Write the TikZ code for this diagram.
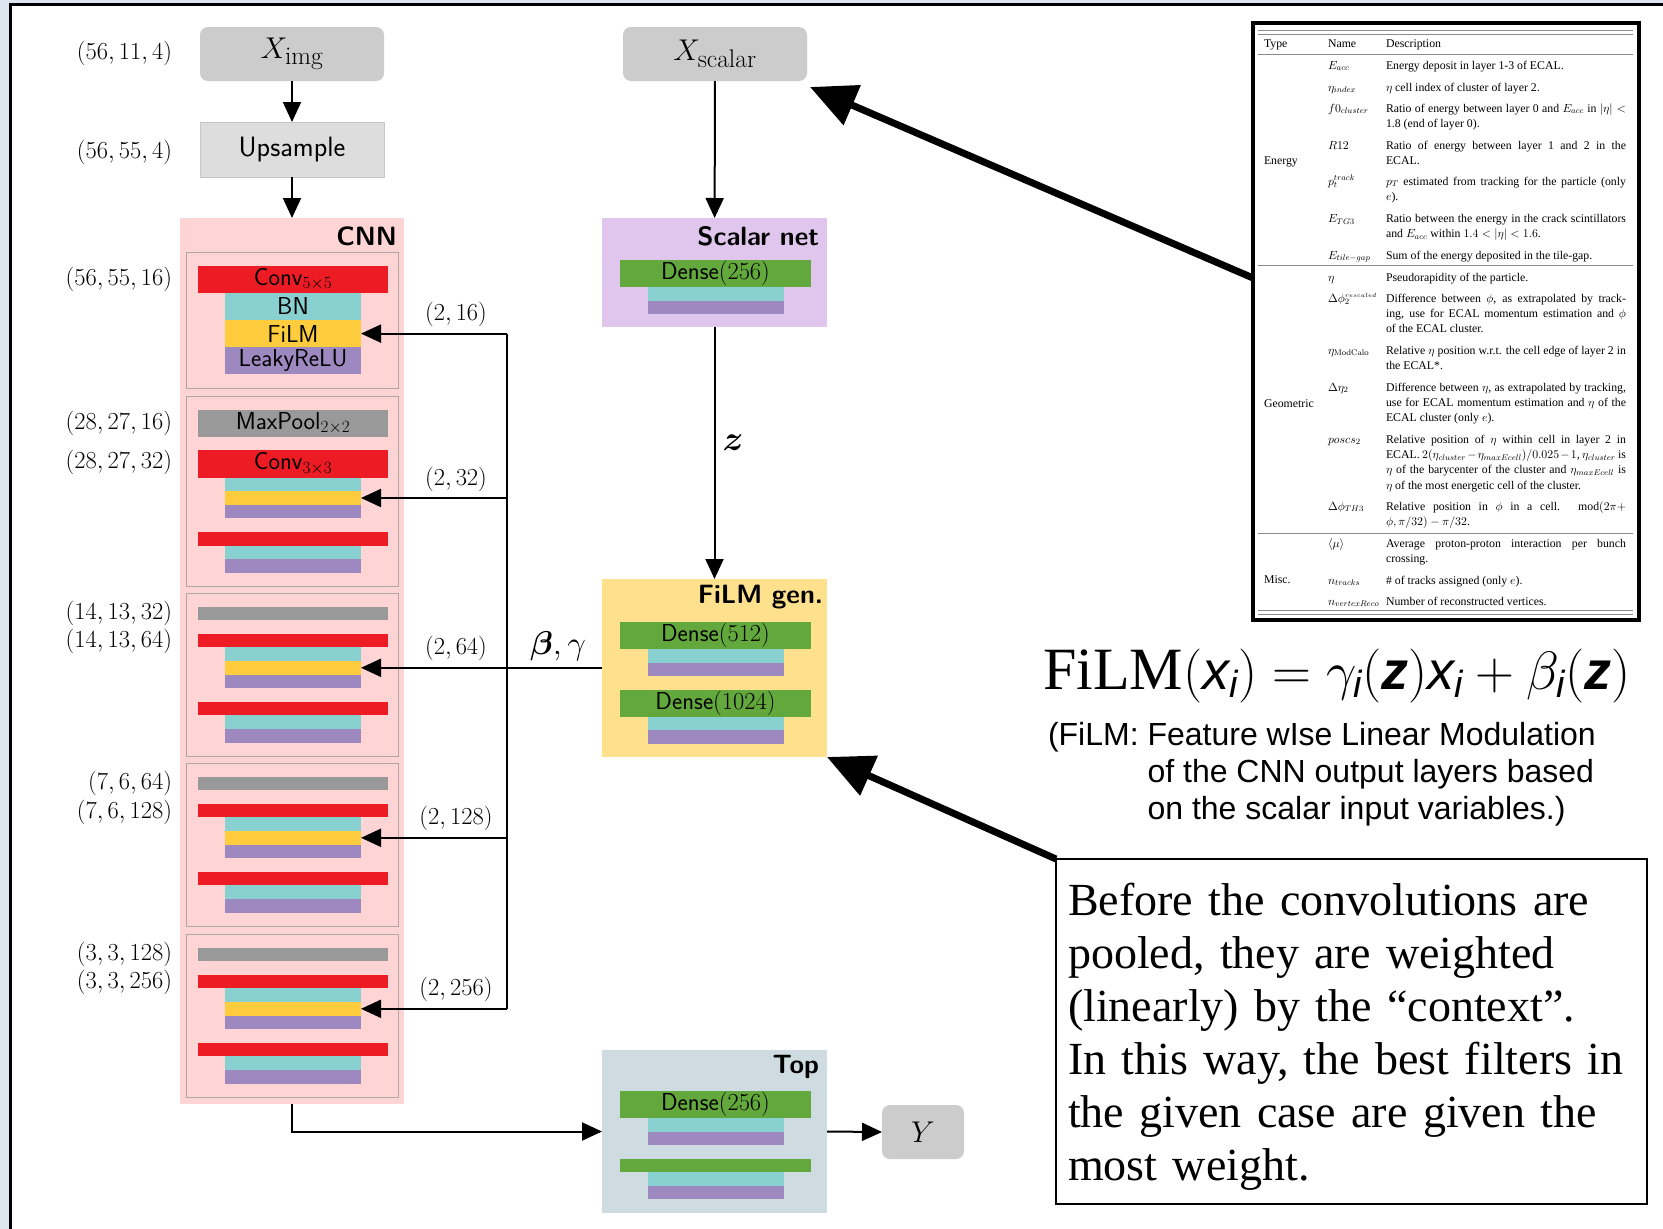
\RequirePackage{fix-cm}
\documentclass[tikz,border=0pt]{standalone}
\usepackage{amsmath,amssymb}
\usepackage{fontspec}
\newfontfamily\tabfont{Liberation Serif}
\newfontfamily\helv{Liberation Sans}
\usetikzlibrary{arrows.meta,calc}
\definecolor{cred}{HTML}{ED1C24}
\definecolor{ccyan}{HTML}{88D1D0}
\definecolor{cyel}{HTML}{FECC3D}
\definecolor{cpur}{HTML}{9E88C0}
\definecolor{cgray}{HTML}{999999}
\definecolor{cgreen}{HTML}{63A83C}
\definecolor{cnnbg}{HTML}{FFD4D4}
\definecolor{scbg}{HTML}{E0C6EC}
\definecolor{fgbg}{HTML}{FFE08C}
\definecolor{topbg}{HTML}{CEDCE2}
\definecolor{boxgray}{HTML}{CCCCCC}
\definecolor{upgray}{HTML}{DDDDDD}
\definecolor{slidebg}{HTML}{DDE5EE}
\definecolor{blkline}{HTML}{B0A6A6}
\definecolor{rulegray}{HTML}{8C8C8C}
\newcommand\myX{\text{\helv\itshape x}}
\newcommand\myI{\text{\helv\itshape i}}
\newcommand\myZ{\text{\helv\bfseries\itshape z}}
\newcommand\bigsub[1]{\text{\fontsize{25.5}{26}\selectfont #1}}
\newcommand\thinblock[2]{%
 \node[blk,minimum height=163.2pt] (#1) at (186,#2) {};
 \node[wbar,fill=cgray,minimum height=13.6pt] (#1mp) at (198,#2+13.6) {};
 \node[wbar,fill=cred,minimum height=13.6pt] (#1ca) at (198,#2+40.8) {};
 \node[nbar,fill=ccyan,minimum height=13.6pt] (#1ba) at (225,#2+54.4) {};
 \node[nbar,fill=cyel,minimum height=13.6pt] (#1f) at (225,#2+68) {};
 \node[nbar,fill=cpur,minimum height=13.6pt] (#1la) at (225,#2+81.6) {};
 \node[wbar,fill=cred,minimum height=13.6pt] (#1cb) at (198,#2+108.8) {};
 \node[nbar,fill=ccyan,minimum height=13.6pt] (#1bb) at (225,#2+122.4) {};
 \node[nbar,fill=cpur,minimum height=13.6pt] (#1lb) at (225,#2+136) {};
}
\newcommand\desc[3]{\node[tabtxt] (#1) at (1386,#2) {\parbox[t]{240pt}{\hyphenpenalty=10000\tolerance=10000\emergencystretch=20pt #3}};}
\newcommand\tname[3]{\node[tabtxt] (#1) at (1328,#2) {#3};}
\begin{document}
\begin{tikzpicture}[x=1pt,y=-1pt,every node/.style={outer sep=0pt},
 conn/.style={line width=2pt,-{Triangle[length=20pt,width=18pt]}},
 wire/.style={line width=2pt},
 bigarrow/.style={line width=7pt,-{Triangle[length=46pt,width=42pt]}},
 barnode/.style={anchor=north west,inner sep=0pt,font=\sffamily\fontsize{24.5}{26}\selectfont},
 wbar/.style={barnode,minimum width=190pt},
 nbar/.style={barnode,minimum width=136pt},
 gbar/.style={barnode,minimum width=191pt,fill=cgreen},
 blk/.style={anchor=north west,draw=blkline,line width=1pt,minimum width=212pt,inner sep=0pt},
 dimlab/.style={anchor=east,inner sep=0pt,font=\fontsize{24.5}{28}\selectfont},
 fdim/.style={inner sep=0pt,font=\fontsize{24.5}{28}\selectfont},
 ttl/.style={anchor=east,inner sep=0pt,font=\sffamily\bfseries\fontsize{26.5}{30}\selectfont},
 iobox/.style={fill=boxgray,rounded corners=8pt,minimum height=54pt,inner sep=0pt,font=\fontsize{30}{34}\selectfont},
 panel/.style={inner sep=0pt},
 tabtxt/.style={anchor=base west,inner sep=0pt,font=\tabfont\fontsize{11.8}{15.4}\selectfont},
 tabrule/.style={draw=rulegray,line width=0.8pt}]
\useasboundingbox (0,0) rectangle (1663,1229);
% slide background and frame
\fill[slidebg] (0,0) rectangle (1663,1229);
\fill[white] (10,4) rectangle (1663,1229);
\draw[line width=3pt] (10,1229) -- (10,4) -- (1663,4);

% ---------- left column ----------
\node[iobox,minimum width=184pt] (ximg) at (292,54) {$X_{\bigsub{img}}$};
\node[panel,fill=upgray,draw=black!22,line width=1pt,minimum width=184pt,minimum height=55pt,text height=19pt,text depth=6pt,font=\sffamily\fontsize{28}{32}\selectfont] (ups) at (292,149.5) {Upsample};
\node[panel,fill=cnnbg,minimum width=224pt,minimum height=886pt] (cnn) at (292,661) {};
\node[ttl] (cnnt) at (397,236) {CNN};

% block 1
\node[blk,minimum height=136pt] (b1) at (186,252) {};
\node[wbar,fill=cred,minimum height=27.2pt] (b1c) at (198,265.6) {Conv$_{5\times5}$};
\node[nbar,fill=ccyan,minimum height=27.2pt] (b1b) at (225,292.8) {BN};
\node[nbar,fill=cyel,minimum height=27.2pt] (b1f) at (225,320) {FiLM};
\node[nbar,fill=cpur,minimum height=27.2pt] (b1l) at (225,347.2) {LeakyReLU};
% block 2
\node[blk,minimum height=190.4pt] (b2) at (186,396) {};
\node[wbar,fill=cgray,minimum height=27.2pt] (b2mp) at (198,409.6) {MaxPool$_{2\times2}$};
\node[wbar,fill=cred,minimum height=27.2pt] (b2ca) at (198,450.4) {Conv$_{3\times3}$};
\node[nbar,fill=ccyan,minimum height=13.6pt] (b2ba) at (225,477.6) {};
\node[nbar,fill=cyel,minimum height=13.6pt] (b2f) at (225,491.2) {};
\node[nbar,fill=cpur,minimum height=13.6pt] (b2la) at (225,504.8) {};
\node[wbar,fill=cred,minimum height=13.6pt] (b2cb) at (198,532) {};
\node[nbar,fill=ccyan,minimum height=13.6pt] (b2bb) at (225,545.6) {};
\node[nbar,fill=cpur,minimum height=13.6pt] (b2lb) at (225,559.2) {};
% blocks 3-5
\thinblock{b3}{593}
\thinblock{b4}{763}
\thinblock{b5}{934}

% dimension labels
\node[dimlab] (d1) at (172,53) {$(56,11,4)$};
\node[dimlab] (d2) at (172,152) {$(56,55,4)$};
\node[dimlab] (d3) at (172,279) {$(56,55,16)$};
\node[dimlab] (d4) at (172,423) {$(28,27,16)$};
\node[dimlab] (d5) at (172,462) {$(28,27,32)$};
\node[dimlab] (d6) at (172,613) {$(14,13,32)$};
\node[dimlab] (d7) at (172,641) {$(14,13,64)$};
\node[dimlab] (d8) at (172,783) {$(7,6,64)$};
\node[dimlab] (d9) at (172,812) {$(7,6,128)$};
\node[dimlab] (d10) at (172,954) {$(3,3,128)$};
\node[dimlab] (d11) at (172,982) {$(3,3,256)$};

\draw[conn] (ximg) -- (ups);
\draw[conn] (ups) -- (cnn);

% ---------- middle column ----------
\node[iobox,minimum width=184pt] (xsc) at (715,54) {$X_{\bigsub{scalar}}$};
\node[panel,fill=scbg,minimum width=225pt,minimum height=109pt] (scn) at (714.5,272.5) {};
\node[ttl] (scnt) at (819,236) {Scalar net};
\node[gbar,minimum height=27pt] (s1) at (620,260) {Dense$(256)$};
\node[nbar,fill=ccyan,minimum height=13.5pt] (s2) at (648,287) {};
\node[nbar,fill=cpur,minimum height=13.5pt] (s3) at (648,300.5) {};

\node[panel,fill=fgbg,minimum width=225pt,minimum height=178pt] (fg) at (714.5,668) {};
\node[ttl] (fgt) at (823,597) {FiLM gen.};
\node[gbar,minimum height=27pt] (g1) at (620,622) {Dense$(512)$};
\node[nbar,fill=ccyan,minimum height=13.5pt] (g2) at (648,649) {};
\node[nbar,fill=cpur,minimum height=13.5pt] (g3) at (648,662.5) {};
\node[gbar,minimum height=27pt] (g4) at (620,689.5) {Dense$(1024)$};
\node[nbar,fill=ccyan,minimum height=13.5pt] (g5) at (648,716.5) {};
\node[nbar,fill=cpur,minimum height=13.5pt] (g6) at (648,730) {};

\node[panel,fill=topbg,minimum width=225pt,minimum height=163pt] (top) at (714.5,1131.5) {};
\node[ttl] (topt) at (819,1067) {Top};
\node[gbar,minimum height=27pt] (t1) at (620,1091) {Dense$(256)$};
\node[nbar,fill=ccyan,minimum height=13.5pt] (t2) at (648,1118) {};
\node[nbar,fill=cpur,minimum height=13.5pt] (t3) at (648,1131.5) {};
\node[gbar,minimum height=13.5pt] (t4) at (620,1158.5) {};
\node[nbar,fill=ccyan,minimum height=13.5pt] (t5) at (648,1172) {};
\node[nbar,fill=cpur,minimum height=13.5pt] (t6) at (648,1185.5) {};

\node[iobox,minimum width=82pt] (yout) at (923,1132) {$Y$};

\draw[conn] (xsc) -- (scn);
\draw[conn] (scn) -- (fg);
\node[inner sep=0pt,font=\fontsize{35}{38}\selectfont] (zlab) at (733,443) {$\boldsymbol{z}$};

% FiLM bus
\coordinate (bus) at (507,668);
\draw[wire] (fg.west) -- (bus);
\draw[wire] (bus |- b1f.east) -- (bus |- b5f.east);
\foreach \b/\lab in {b1/16,b2/32,b3/64,b4/128,b5/256}{
 \draw[conn] (bus |- \b f.east) -- (\b f.east);
 \node[fdim] (\b lab) at ($(bus |- \b f.east)+(-51,-19)$) {$(2,\lab)$};
}
\node[inner sep=0pt,font=\fontsize{33}{36}\selectfont] (bglab) at (558,646) {$\boldsymbol{\beta},\gamma$};

\draw[conn] (cnn.south) |- (top.west);
\draw[conn] (top.east) -- (yout.west);

% ---------- table ----------
\node[draw,fill=white,line width=4pt,minimum width=386pt,minimum height=597pt,inner sep=0pt] (tabframe) at (1446,321.5) {};
\draw[tabrule] (1258,30) -- (1633,30);
\draw[tabrule] (1258,34) -- (1633,34);
\draw[tabrule] (1258,54) -- (1633,54);
\draw[tabrule] (1258,265) -- (1633,265);
\draw[tabrule] (1258,533) -- (1633,533);
\draw[tabrule] (1258,610) -- (1633,610);
\draw[tabrule] (1258,614) -- (1633,614);

\node[tabtxt] (hType) at (1264,47.5) {Type};
\node[tabtxt] (hName) at (1328,47.5) {Name};
\node[tabtxt] (hDesc) at (1386,47.5) {Description};
\node[tabtxt] (tyE) at (1264,164) {Energy};
\node[tabtxt] (tyG) at (1264,407) {Geometric};
\node[tabtxt] (tyM) at (1264,583) {Misc.};

\tname{n1}{69}{$E_{acc}$}
\tname{n2}{91}{$\eta_{index}$}
\tname{n3}{112}{$f0_{cluster}$}
\tname{n4}{149}{$R12$}
\tname{n5}{185}{$p_t^{track}$}
\tname{n6}{222.5}{$E_{TG3}$}
\tname{n7}{259}{$E_{tile-gap}$}
\tname{n8}{281}{$\eta$}
\tname{n9}{302}{$\Delta\phi_2^{\scriptscriptstyle rescaled}$}
\tname{n10}{354}{$\eta_{\mathrm{ModCalo}}$}
\tname{n11}{391}{$\Delta\eta_2$}
\tname{n12}{443}{$poscs_2$}
\tname{n13}{510}{$\Delta\phi_{TH3}$}
\tname{n14}{547}{$\langle\mu\rangle$}
\tname{n15}{584}{$n_{tracks}$}
\tname{n16}{605}{$n_{vertexReco}$}

\desc{e1}{69}{Energy deposit in layer 1-3 of ECAL.}
\desc{e2}{91}{$\eta$ cell index of cluster of layer 2.}
\desc{e3}{112}{Ratio of energy between layer 0 and $E_{acc}$ in $|\eta|<$\linebreak 1.8 (end of layer 0).}
\desc{e4}{149}{Ratio of energy between layer 1 and 2 in the\linebreak ECAL.}
\desc{e5}{185}{$p_T$ estimated from tracking for the particle (only\linebreak $e$).}
\desc{e6}{222.5}{Ratio between the energy in the crack scintillators\linebreak and $E_{acc}$ within $1.4<|\eta|<1.6$.}
\desc{e7}{259}{Sum of the energy deposited in the tile-gap.}
\desc{e8}{281}{Pseudorapidity of the particle.}
\desc{e9}{302}{Difference between $\phi$, as extrapolated by track-\linebreak ing, use for ECAL momentum estimation and $\phi$\linebreak of the ECAL cluster.}
\desc{e10}{354}{Relative $\eta$ position w.r.t. the cell edge of layer 2 in\linebreak the ECAL*.}
\desc{e11}{391}{Difference between $\eta$, as extrapolated by tracking,\linebreak use for ECAL momentum estimation and $\eta$ of the\linebreak ECAL cluster (only $e$).}
\desc{e12}{443}{Relative position of $\eta$ within cell in layer 2 in\linebreak ECAL. $2(\eta_{cluster}-\eta_{maxEcell})/0.025-1$, $\eta_{cluster}$ is\linebreak $\eta$ of the barycenter of the cluster and $\eta_{maxEcell}$ is\linebreak $\eta$ of the most energetic cell of the cluster.}
\desc{e13}{510}{Relative position in $\phi$ in a cell. mod$(2\pi+$\linebreak $\phi,\pi/32)-\pi/32$.}
\desc{e14}{547}{Average proton-proton interaction per bunch\linebreak crossing.}
\desc{e15}{584}{\# of tracks assigned (only $e$).}
\desc{e16}{605}{Number of reconstructed vertices.}

% ---------- formula and caption ----------
\node[anchor=base west,inner sep=0pt,font=\fontsize{54}{60}\selectfont] (formula) at (1043,689)
 {$\text{\tabfont\fontsize{60}{60}\selectfont FiLM}(\myX_{\myI})=\gamma_{\myI}(\myZ)\myX_{\myI}+\beta_{\myI}(\myZ)$};
\node[anchor=base west,inner sep=0pt,font=\helv\fontsize{32}{37}\selectfont] (caption) at (1048,745)
 {(FiLM: \parbox[t]{500pt}{\baselineskip=37pt Feature wIse Linear Modulation\\ of the CNN output layers based\\ on the scalar input variables.)}};

% ---------- note box ----------
\node[draw,fill=white,line width=2.5pt,minimum width=591pt,minimum height=345pt,text width=567pt,inner xsep=12pt,inner ysep=0pt,align=left,font=\tabfont\fontsize{46}{53}\selectfont] (note) at (1351.5,1031.5)
 {\rule{0pt}{42pt}Before the convolutions are\\ pooled, they are weighted\\ (linearly) by the “context”.\\ In this way, the best filters in\\ the given case are given the\\ most weight.};

% ---------- big arrows ----------
\coordinate (tabin) at (1253,278);
\coordinate (xstip) at (810,87);
\draw[bigarrow] (tabin) -- (xstip);
\draw[bigarrow] (note.north west) -- (fg.south east);
\end{tikzpicture}
\end{document}
